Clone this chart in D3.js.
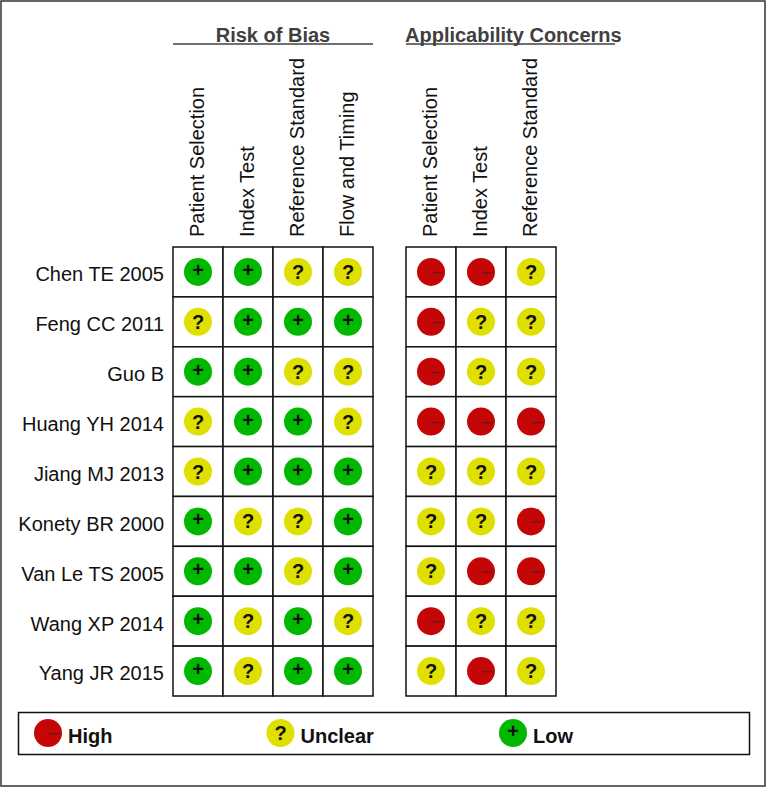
<!DOCTYPE html>
<html>
<head>
	<title>Risk of Bias</title>
	<style type="text/css">
		html, body {
			margin: 0;
			padding: 0;
			background: #fff;
		}

		svg {
			display: block;
			font-family: "Liberation Sans", Arial, sans-serif;
		}

		.axis path, .axis line {
			display: none;
		}

		.axis text {
			font-size: 20px;
			fill: #111;
		}

		.group-title {
			font-size: 20px;
			font-weight: bold;
			fill: #404040;
		}

		.legend-label {
			font-size: 20px;
			font-weight: bold;
			fill: #111;
		}
	</style>
	<script src="https://d3js.org/d3.v7.min.js"></script>
</head>
<body>
<div class="container"></div>
<script type="text/javascript">
	var studies = ["Chen TE 2005", "Feng CC 2011", "Guo B", "Huang YH 2014", "Jiang MJ 2013", "Konety BR 2000", "Van Le TS 2005", "Wang XP 2014", "Yang JR 2015"];
	var biasDomains = ["Patient Selection", "Index Test", "Reference Standard", "Flow and Timing"];
	var concernDomains = ["Patient Selection", "Index Test", "Reference Standard"];
	var levels = ["High", "Unclear", "Low"];

	// one row per study, H = high, U = unclear, L = low
	var biasRatings = ["LLUU", "ULLL", "LLUU", "ULLU", "ULLL", "LUUL", "LLUL", "LULU", "LULL"];
	var concernRatings = ["HHU", "HUU", "HUU", "HHH", "UUU", "UUH", "UHH", "HUU", "UHU"];

	var fills = {H: "#c40606", U: "#e0e000", L: "#00b800"};
	var keys = {High: "H", Unclear: "U", Low: "L"};
	var r = 14;

	var svg = d3.select(".container").append("svg")
			.attr("width", 767)
			.attr("height", 788);

	svg.append("rect")
		.attr("x", 1)
		.attr("y", 1)
		.attr("width", 764)
		.attr("height", 785)
		.attr("fill", "none")
		.attr("stroke", "#333")
		.attr("stroke-width", 1.5);

	var y = d3.scaleBand().domain(studies).range([247, 696]);

	function drawSymbol(g, key, cx, cy) {
		g.append("circle")
			.attr("cx", cx)
			.attr("cy", cy)
			.attr("r", r)
			.attr("fill", fills[key]);

		if (key == "H") {
			g.append("text")
				.attr("x", cx)
				.attr("y", cy + 6)
				.attr("font-size", 20)
				.attr("fill", "#6e1414")
				.text("\u2013");
		} else {
			g.append("text")
				.attr("x", cx)
				.attr("y", cy + (key == "U" ? 7 : 5))
				.attr("text-anchor", "middle")
				.attr("font-size", 20)
				.attr("font-weight", "bold")
				.attr("fill", "#111")
				.text(key == "U" ? "?" : "+");
		}
	}

	function drawPanel(domains, ratings, x0, x1) {
		var x = d3.scaleBand().domain(domains).range([x0, x1]);
		var g = svg.append("g");

		studies.forEach(function(study, i) {
			domains.forEach(function(domain, j) {
				g.append("rect")
					.attr("x", x(domain))
					.attr("y", y(study))
					.attr("width", x.bandwidth())
					.attr("height", y.bandwidth())
					.attr("fill", "#fff")
					.attr("stroke", "#111")
					.attr("stroke-width", 1.5);
				drawSymbol(g, ratings[i][j], x(domain) + x.bandwidth() / 2, y(study) + y.bandwidth() / 2);
			});
		});

		svg.append("g")
			.attr("class", "axis")
			.attr("transform", "translate(0,237)")
			.call(d3.axisTop(x).tickSize(0).tickPadding(0))
			.selectAll("text")
				.attr("transform", "rotate(-90)")
				.attr("text-anchor", "start")
				.attr("x", 0)
				.attr("y", 0)
				.attr("dx", 0)
				.attr("dy", "0.3em");
	}

	drawPanel(biasDomains, biasRatings, 173, 373);
	drawPanel(concernDomains, concernRatings, 406, 556);

	svg.append("g")
		.attr("class", "axis")
		.attr("transform", "translate(164,3)")
		.call(d3.axisLeft(y).tickSize(0).tickPadding(0));

	// group headers with rule underneath
	svg.append("text")
		.attr("class", "group-title")
		.attr("x", 273)
		.attr("y", 42)
		.attr("text-anchor", "middle")
		.text("Risk of Bias");

	svg.append("text")
		.attr("class", "group-title")
		.attr("x", 405)
		.attr("y", 42)
		.text("Applicability Concerns");

	svg.append("line")
		.attr("x1", 173)
		.attr("x2", 373)
		.attr("y1", 44)
		.attr("y2", 44)
		.attr("stroke", "#404040")
		.attr("stroke-width", 1.5);

	svg.append("line")
		.attr("x1", 406)
		.attr("x2", 615)
		.attr("y1", 44)
		.attr("y2", 44)
		.attr("stroke", "#404040")
		.attr("stroke-width", 1.5);

	// legend
	svg.append("rect")
		.attr("x", 18.5)
		.attr("y", 712.5)
		.attr("width", 731)
		.attr("height", 42)
		.attr("fill", "#fff")
		.attr("stroke", "#111")
		.attr("stroke-width", 1.5);

	var legendX = d3.scalePoint().domain(levels).range([48, 513]);
	var gLegend = svg.append("g");

	levels.forEach(function(level) {
		drawSymbol(gLegend, keys[level], legendX(level), 733);
		gLegend.append("text")
			.attr("class", "legend-label")
			.attr("x", legendX(level) + 20)
			.attr("y", 743)
			.text(level);
	});
</script>
</body>
</html>
